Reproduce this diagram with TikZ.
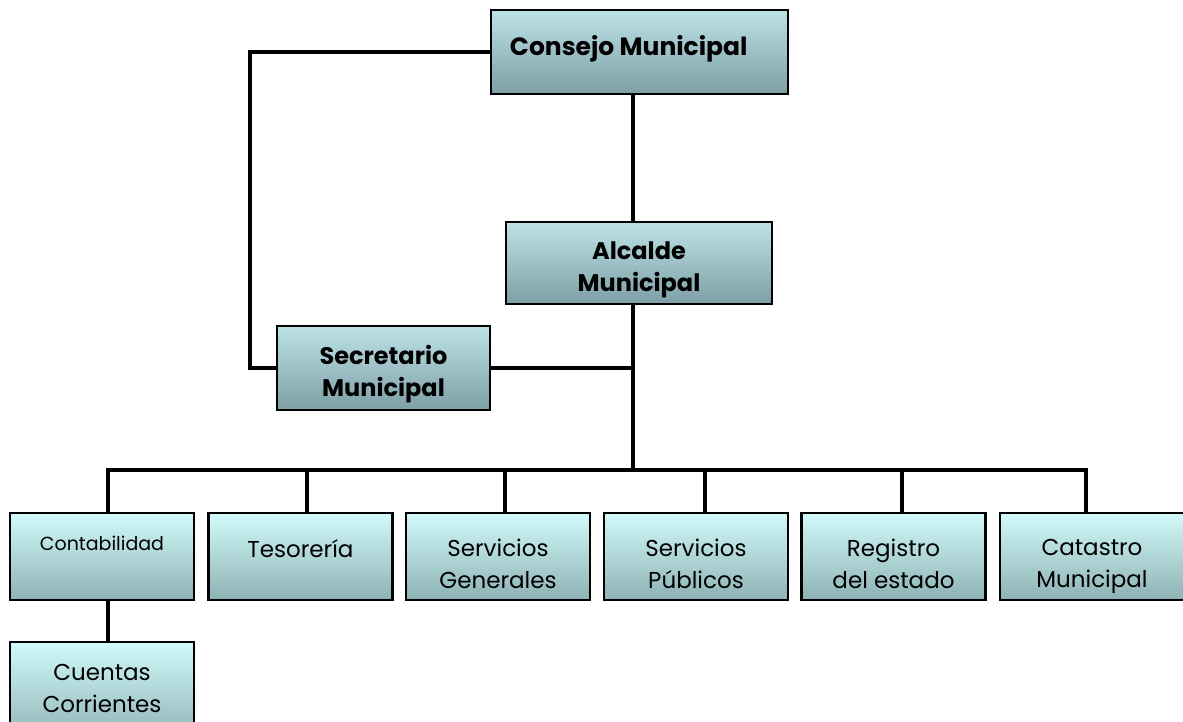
\documentclass[tikz,border=0pt]{standalone}
\usepackage{fontspec}
\setmainfont{Poppins}
\begin{document}
\begin{tikzpicture}[x=1pt,y=-1pt,
  topbox/.style={draw=black, line width=2.5pt, shading=axis, top color=topA, bottom color=topB,
    minimum width=#1, inner sep=0pt},
  lowbox/.style={draw=black, line width=2.5pt, shading=axis, top color=lowA, bottom color=lowB,
    minimum width=184pt, minimum height=87pt, inner sep=0pt},
  toptext/.style={inner sep=0pt, align=center, font=\fontsize{24}{32}\selectfont\bfseries},
  lowtext/.style={inner sep=0pt, align=center, font=\fontsize{23}{32}\selectfont},
  link/.style={line width=4pt, line cap=rect}
]
\definecolor{topA}{HTML}{BCE2E8}
\definecolor{topB}{HTML}{7D9FA5}
\definecolor{lowA}{HTML}{D2FAFA}
\definecolor{lowB}{HTML}{8DB2B5}
\useasboundingbox (0,0) rectangle (1183,721);
\fill[white] (0,0) rectangle (1183,721);

% top level boxes
\node[topbox=297pt, minimum height=84pt] (consejo) at (639.5,52) {};
\node[topbox=266pt, minimum height=82pt] (alcalde) at (639,263) {};
\node[topbox=213pt, minimum height=84pt] (secret) at (383.5,368) {};
\node[toptext, font=\fontsize{25}{32}\selectfont\bfseries, anchor=west] (consejoT) at ([xshift=20pt,yshift=3pt]consejo.west) {Consejo Municipal};
\node[toptext] (alcaldeT) at ([yshift=-7pt]alcalde.center) {Alcalde\\Municipal};
\node[toptext] (secretT) at ([yshift=-6pt]secret.center) {Secretario\\Municipal};

% bottom row boxes
\node[lowbox] (conta) at (102,556.5) {};
\node[lowbox] (teso) at (300.5,556.5) {};
\node[lowbox] (sgen) at (498,556.5) {};
\node[lowbox] (spub) at (696,556.5) {};
\node[lowbox] (reg) at (893.5,556.5) {};
\node[lowbox] (cat) at (1092,556.5) {};
\node[lowbox, minimum height=100pt] (cuentas) at (102,692) {};

\node[lowtext, font=\fontsize{19}{24}\selectfont] (contaT) at ([yshift=13pt]conta.center) {Contabilidad};
\node[lowtext] (tesoT) at ([yshift=8pt]teso.center) {Tesorería};
\node[lowtext] (sgenT) at ([yshift=-7pt]sgen.center) {Servicios\\Generales};
\node[lowtext] (spubT) at ([yshift=-7pt]spub.center) {Servicios\\Públicos};
\node[lowtext] (regT) at ([yshift=-7pt]reg.center) {Registro\\del estado};
\node[lowtext] (catT) at ([yshift=-10pt]cat.center) {Catastro\\Municipal};
\node[lowtext] (cuentasT) at ([yshift=4pt]cuentas.center) {Cuentas\\Corrientes};

% coordinates
\coordinate (cL) at (250,52);
\coordinate (sL) at (250,368);
\coordinate (trunk) at (633,368);
\coordinate (bus) at (633,470);
\coordinate (b1) at (108,470);
\coordinate (b2) at (307,470);
\coordinate (b3) at (505,470);
\coordinate (b4) at (705,470);
\coordinate (b5) at (902,470);
\coordinate (b6) at (1086,470);

% connectors
\draw[link] (consejo.west |- cL) -- (cL) -- (sL) -- (secret.west |- sL);
\draw[link] (consejo.south -| bus) -- (alcalde.north -| bus);
\draw[link] (alcalde.south -| bus) -- (bus);
\draw[link] (secret.east |- trunk) -- (trunk);
\draw[link] (b1) -- (b6);
\draw[link] (b1) -- (conta.north -| b1);
\draw[link] (b2) -- (teso.north -| b2);
\draw[link] (b3) -- (sgen.north -| b3);
\draw[link] (b4) -- (spub.north -| b4);
\draw[link] (b5) -- (reg.north -| b5);
\draw[link] (b6) -- (cat.north -| b6);
\draw[link] (conta.south -| b1) -- (cuentas.north -| b1);
\end{tikzpicture}
\end{document}
